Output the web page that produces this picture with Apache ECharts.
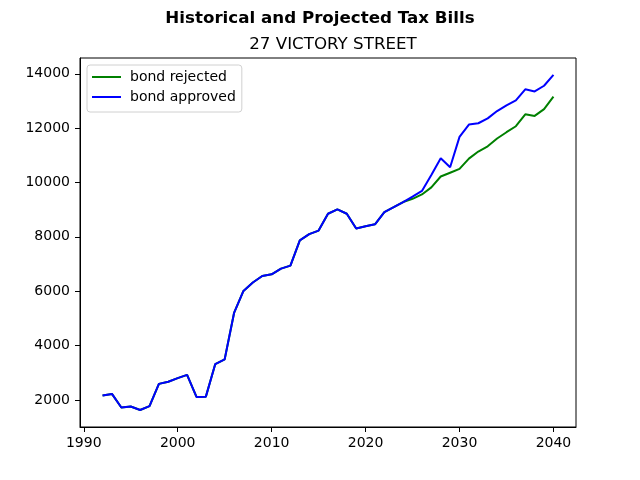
<!DOCTYPE html>
<head>
    <meta charset="utf-8">
    <title>Tax Bills</title>
    <script type="text/javascript" src="https://cdn.jsdelivr.net/npm/echarts@6/dist/echarts.min.js"></script>
    <style>
        html, body { margin: 0; padding: 0; background: #fff; }
    </style>
</head>
<body>
    <div id="main" style="width:640px;height:480px"></div>

    <script type="text/javascript">
// data
var years = [1992, 1993, 1994, 1995, 1996, 1997, 1998, 1999, 2000, 2001,
             2002, 2003, 2004, 2005, 2006, 2007, 2008, 2009, 2010, 2011,
             2012, 2013, 2014, 2015, 2016, 2017, 2018, 2019, 2020, 2021,
             2022, 2023, 2024, 2025, 2026, 2027, 2028, 2029, 2030, 2031,
             2032, 2033, 2034, 2035, 2036, 2037, 2038, 2039, 2040];
var bondApproved = [2160, 2220, 1720, 1755, 1630, 1770, 2590, 2670, 2800, 2920,
                    2110, 2120, 3320, 3490, 5200, 6010, 6320, 6560, 6620, 6830,
                    6940, 7870, 8100, 8230, 8850, 9010, 8850, 8310, 8390, 8460,
                    8910, 9090, 9280, 9480, 9690, 10280, 10890, 10560, 11680, 12130,
                    12180, 12360, 12630, 12840, 13020, 13430, 13350, 13560, 13960];
var bondRejected = [2160, 2220, 1720, 1755, 1630, 1770, 2590, 2670, 2800, 2920,
                    2110, 2120, 3320, 3490, 5200, 6010, 6320, 6560, 6620, 6830,
                    6940, 7870, 8100, 8230, 8850, 9010, 8850, 8310, 8390, 8460,
                    8910, 9090, 9280, 9400, 9560, 9820, 10220, 10360, 10500, 10880,
                    11140, 11330, 11620, 11850, 12070, 12510, 12450, 12700, 13160];
var xTicks = [1990, 2000, 2010, 2020, 2030, 2040];
var yTicks = [2000, 4000, 6000, 8000, 10000, 12000, 14000];

function pairs(xs, ys) {
    return xs.map(function (x, i) { return [x, ys[i]]; });
}

var font = 'DejaVu Sans';
var myChart = echarts.init(document.getElementById('main'));
myChart.setOption({
    animation: false,
    textStyle: { fontFamily: font },
    title: [
        {
            text: 'Historical and Projected Tax Bills',
            left: 'center', top: 5,
            textStyle: { fontFamily: font, fontSize: 16.7, fontWeight: 'bold', color: '#000' }
        },
        {
            text: '27 VICTORY STREET',
            left: 328, top: 31, textAlign: 'center',
            textStyle: { fontFamily: font, fontSize: 16.7, fontWeight: 'normal', color: '#000' }
        }
    ],
    legend: {
        orient: 'vertical',
        left: 87, top: 65,
        padding: [5, 6, 8, 5],
        itemWidth: 29, itemHeight: 2, itemGap: 6,
        icon: 'rect',
        borderColor: '#d0d0d0', borderWidth: 1, borderRadius: 3,
        backgroundColor: '#fff',
        textStyle: { fontFamily: font, fontSize: 14, color: '#000', padding: [0, 0, 0, 4] },
        data: ['bond rejected', 'bond approved']
    },
    grid: {
        left: 80, right: 64, top: 58, bottom: 53,
        show: true, borderColor: '#000', borderWidth: 1
    },
    xAxis: {
        type: 'value',
        min: 1989.6, max: 2042.4,
        splitLine: { show: false },
        axisLine: { lineStyle: { color: '#000' } },
        axisTick: { show: true, length: 5, lineStyle: { color: '#000' }, customValues: xTicks },
        axisLabel: { color: '#000', fontSize: 14, margin: 9, customValues: xTicks,
                     formatter: function (v) { return String(v); } }
    },
    yAxis: {
        type: 'value',
        min: 1003, max: 14581,
        splitLine: { show: false },
        axisLine: { show: true, lineStyle: { color: '#000' } },
        axisTick: { show: true, length: 5, lineStyle: { color: '#000' }, customValues: yTicks },
        axisLabel: { color: '#000', fontSize: 14, margin: 10, customValues: yTicks,
                     formatter: function (v) { return String(v); } }
    },
    series: [
        {
            name: 'bond rejected',
            type: 'line',
            showSymbol: false,
            color: '#008000',
            lineStyle: { width: 2, color: '#008000' },
            data: pairs(years, bondRejected)
        },
        {
            name: 'bond approved',
            type: 'line',
            showSymbol: false,
            color: '#0000ff',
            lineStyle: { width: 2, color: '#0000ff' },
            data: pairs(years, bondApproved)
        }
    ]
});
    </script>
</body>
